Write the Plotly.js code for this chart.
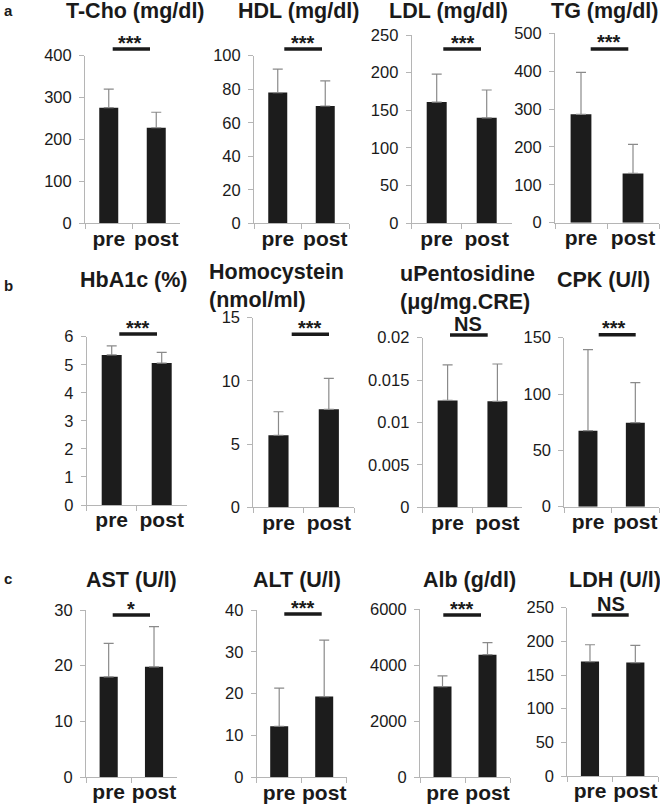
<!DOCTYPE html>
<html>
<head>
<meta charset="utf-8">
<script src="https://cdn.plot.ly/plotly-3.0.1.min.js"></script>
<style>html,body{margin:0;padding:0;background:#fff;}#chart{width:660px;height:806px;}</style>
</head>
<body>
<div id="chart"></div>
<script>
// ---------- data ----------
const categories = ['pre', 'post'];
const panelTitles = ['T-Cho (mg/dl)', 'HDL (mg/dl)', 'LDL (mg/dl)', 'TG (mg/dl)',
  'HbA1c (%)', 'Homocystein<br>(nmol/ml)', 'uPentosidine<br>(μg/mg.CRE)', 'CPK (U/l)',
  'AST (U/l)', 'ALT (U/l)', 'Alb (g/dl)', 'LDH (U/l)'];
const preMean  = [276, 78, 161, 286, 5.35, 5.7, 0.0126, 67.5, 18.0, 12.2, 3240, 170];
const postMean = [228, 70, 140, 130, 5.06, 7.75, 0.0125, 74.6, 19.8, 19.3, 4380, 168.5];
const preSD    = [44, 14, 37, 111, 0.32, 1.86, 0.0042, 72, 6.0, 9.1, 380, 25];
const postSD   = [37, 15, 37, 77, 0.38, 2.45, 0.0044, 35.5, 7.2, 13.5, 430, 25.5];
const yMax     = [400, 100, 250, 500, 6, 15, 0.02, 150, 30, 40, 6000, 250];
const yStep    = [100, 20, 50, 100, 1, 5, 0.005, 50, 10, 10, 2000, 50];
const sigLabels = ['***', '***', '***', '***', '***', '***', 'NS', '***', '*', '***', '***', 'NS'];
const panelLetters = ['a', 'b', 'c'];

// ---------- layout geometry (pixels) ----------
const W = 660, H = 806;
const FONT = 'Liberation Sans, Arial, Helvetica, sans-serif';
// [xLeft, xRight, yBottom, yTop]
const axBox = [
  [85, 180, 223.3, 55.7], [254, 349, 223.3, 55.7], [411.7, 511.7, 223.3, 35], [555, 659, 222.7, 33.3],
  [86.7, 186.7, 505, 336.7], [253.3, 354, 507.3, 317.7], [422.7, 522.3, 507.3, 337.7], [564.3, 659, 506.7, 337.7],
  [86, 176.7, 777, 610], [256.7, 346.7, 777.3, 610], [420, 510, 777.3, 609.3], [567.3, 658, 776, 607.7]
];
// [x, y, anchor]
const titlePos = [
  [135, 11, 'center'], [298.7, 11, 'center'], [448.7, 11, 'center'], [604, 11, 'center'],
  [134, 280, 'center'], [207, 286, 'left'], [397.5, 288, 'left'], [603.3, 280, 'center'],
  [131, 580, 'center'], [296.7, 580, 'center'], [469, 580, 'center'], [615, 580, 'center']
];
// [x0, x1, y]
const sigBar = [
  [112.7, 150, 49], [284.3, 322, 49], [443.3, 481, 49], [590.7, 628.3, 49],
  [119.3, 157, 334], [291.7, 329, 334.3], [450, 487.7, 335], [598.7, 635.7, 334.7],
  [112.7, 150, 615], [284.3, 321.7, 614], [443.3, 481, 615], [591.7, 628.7, 615]
];
// [x, y] centre of the significance text glyphs
const sigText = [
  [130, 38], [302.7, 38], [462.7, 38], [609.3, 37],
  [137.7, 323.3], [310, 323.3], [468.3, 323.5], [614, 323],
  [130.7, 604.3], [302.7, 603.3], [461.7, 604], [611, 604.3]
];
const letterPos = [[8, 11], [8, 285], [8, 578]];

const px = x => x / W;
const py = y => 1 - y / H;

const traces = [];
const layout = {
  width: W, height: H,
  margin: {l: 0, r: 0, t: 0, b: 0},
  paper_bgcolor: '#fff', plot_bgcolor: 'rgba(0,0,0,0)',
  showlegend: false,
  font: {family: FONT, color: '#1a1a1a'},
  annotations: [], shapes: []
};

for (let i = 0; i < 12; i++) {
  const n = i === 0 ? '' : String(i + 1);
  const b = axBox[i];
  traces.push({
    type: 'bar',
    x: categories,
    y: [preMean[i], postMean[i]],
    xaxis: 'x' + n, yaxis: 'y' + n,
    width: 0.4,
    marker: {color: '#1c1c1c', line: {width: 0}},
    error_y: {type: 'data', symmetric: false, array: [preSD[i], postSD[i]], arrayminus: [0, 0],
      color: '#8a8a8a', thickness: 1.2, width: 5},
    hoverinfo: 'none'
  });
  layout['xaxis' + n] = {
    domain: [px(b[0]), px(b[1])], anchor: 'y' + n,
    type: 'category', range: [-0.5, 1.5],
    showline: true, linecolor: '#b5b5b5', linewidth: 1,
    ticks: 'outside', tickson: 'boundaries', ticklen: 5, tickcolor: '#b5b5b5',
    showgrid: false, zeroline: false, fixedrange: true,
    tickangle: 0,
    tickfont: {family: FONT, size: 21, color: '#1a1a1a', weight: 'bold'},
    ticklabelstandoff: -4
  };
  layout['yaxis' + n] = {
    domain: [py(b[2]), py(b[3])], anchor: 'x' + n,
    range: [0, yMax[i]], dtick: yStep[i], tick0: 0,
    showline: true, linecolor: '#b5b5b5', linewidth: 1,
    ticks: 'outside', ticklen: 5, tickcolor: '#b5b5b5',
    showgrid: false, zeroline: false, fixedrange: true,
    exponentformat: 'none', separatethousands: false,
    tickfont: {family: FONT, size: 16.5, color: '#1a1a1a'},
    ticklabelstandoff: 4
  };
  const t = titlePos[i];
  layout.annotations.push({
    text: panelTitles[i], xref: 'paper', yref: 'paper',
    x: px(t[0]), y: py(t[1]), xanchor: t[2], yanchor: 'middle', align: 'left',
    showarrow: false,
    font: {family: FONT, size: 21.5, color: '#1a1a1a', weight: 'bold'}
  });
  const s = sigText[i];
  const isStar = sigLabels[i].indexOf('*') >= 0;
  layout.annotations.push({
    text: sigLabels[i], xref: 'paper', yref: 'paper',
    x: px(s[0]), y: py(s[1] + (isStar ? 5 : 0)), xanchor: 'center', yanchor: 'middle',
    showarrow: false,
    font: {family: FONT, size: 20, color: '#1a1a1a', weight: 'bold'}
  });
  const sb = sigBar[i];
  layout.shapes.push({
    type: 'line', xref: 'paper', yref: 'paper',
    x0: px(sb[0]), x1: px(sb[1]), y0: py(sb[2]), y1: py(sb[2]),
    line: {color: '#1a1a1a', width: 3.5}
  });
}
panelLetters.forEach((l, k) => {
  layout.annotations.push({
    text: l, xref: 'paper', yref: 'paper',
    x: px(letterPos[k][0]), y: py(letterPos[k][1]), xanchor: 'center', yanchor: 'middle',
    showarrow: false, font: {family: FONT, size: 15, color: '#1a1a1a', weight: 'bold'}
  });
});

Plotly.newPlot('chart', traces, layout, {displayModeBar: false, staticPlot: true});
</script>
</body>
</html>
